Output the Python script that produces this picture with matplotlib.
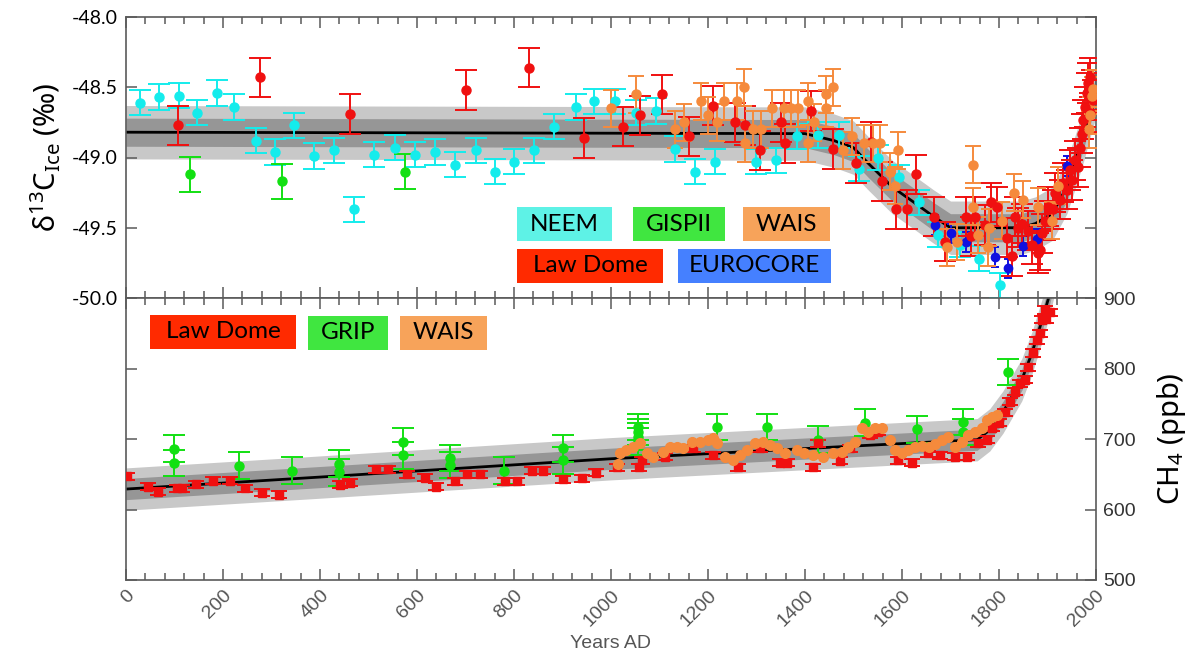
import numpy as np
import matplotlib
matplotlib.use('Agg')
import matplotlib.pyplot as plt
from matplotlib.patches import Rectangle
from matplotlib.ticker import MultipleLocator

# ---- d13C of methane (top panel) ----
model_year = [0, 1400, 1460, 1500, 1530, 1580, 1625, 1665, 1700, 1845, 1875, 1910,
              1940, 1960, 1975, 1990, 2000]
model_d13c = [-48.82, -48.83, -48.88, -48.93, -49.04, -49.21, -49.32, -49.42, -49.50,
              -49.50, -49.47, -49.40, -49.21, -49.00, -48.83, -48.64, -48.52]

neem_year = [29, 68, 109, 146, 188, 223, 268, 307, 346, 387, 429, 470, 511, 555, 596, 637,
             678, 722, 761, 800, 841, 882, 928, 965, 1008, 1052, 1093, 1132, 1173, 1214,
             1299, 1340, 1383, 1427, 1470, 1511, 1551, 1594, 1635, 1675, 1720, 1759, 1802]
neem_d13c = [-48.61, -48.57, -48.56, -48.68, -48.54, -48.64, -48.88, -48.96, -48.77, -48.99,
             -48.95, -49.37, -48.98, -48.93, -48.98, -48.96, -49.05, -48.95, -49.10, -49.03,
             -48.95, -48.78, -48.64, -48.60, -48.60, -48.68, -48.67, -48.94, -49.10, -49.03,
             -49.03, -49.02, -48.85, -48.84, -48.84, -49.08, -49.00, -49.14, -49.32, -49.55,
             -49.62, -49.72, -49.91]

gisp_year = [131, 321, 575]
gisp_d13c = [-49.12, -49.17, -49.10]

law_year = [107, 276, 462, 701, 831, 944, 1025, 1060, 1105, 1160, 1210, 1256, 1277, 1307,
            1350, 1359, 1412, 1458, 1505, 1536, 1559, 1588, 1610, 1629, 1666, 1689, 1732,
            1742, 1751, 1771, 1784, 1796, 1816, 1826, 1833, 1839, 1847, 1860, 1868, 1880,
            1885, 1889, 1895, 1901, 1911, 1915, 1926, 1932, 1940, 1946, 1950, 1957, 1963,
            1967, 1971, 1974, 1977, 1981, 1984, 1987, 1988, 1991, 1994]
law_d13c = [-48.77, -48.43, -48.69, -48.52, -48.36, -48.86, -48.78, -48.70, -48.55, -48.85,
            -48.63, -48.75, -48.77, -48.95, -48.75, -48.90, -48.67, -48.94, -49.04, -48.89,
            -49.17, -49.37, -49.37, -49.12, -49.42, -49.60, -49.42, -49.56, -49.42, -49.48,
            -49.32, -49.35, -49.57, -49.70, -49.42, -49.50, -49.47, -49.52, -49.62, -49.68,
            -49.66, -49.54, -49.45, -49.35, -49.37, -49.25, -49.30, -49.18, -49.23, -49.09,
            -49.16, -49.02, -49.07, -48.93, -48.83, -48.73, -48.64, -48.54, -48.47, -48.43,
            -48.68, -48.52, -48.59]

wais_year = [1000, 1052, 1132, 1151, 1186, 1200, 1219, 1233, 1260, 1274, 1277, 1293, 1309,
             1332, 1357, 1371, 1385, 1406, 1406, 1419, 1443, 1443, 1458, 1478, 1497, 1522,
             1540, 1555, 1575, 1586, 1592, 1692, 1713, 1746, 1746, 1757, 1778, 1780, 1806,
             1831, 1850, 1880, 1909, 1922, 1986, 1988, 1992, 1994]
wais_d13c = [-48.65, -48.55, -48.80, -48.75, -48.60, -48.70, -48.75, -48.60, -48.60, -48.50,
             -48.90, -48.80, -48.80, -48.65, -48.65, -48.65, -48.65, -48.60, -48.90, -48.75,
             -48.65, -48.55, -48.50, -48.95, -48.85, -48.90, -48.90, -48.90, -49.10, -49.20,
             -48.95, -49.64, -49.60, -49.05, -49.35, -49.55, -49.64, -49.50, -49.45, -49.25,
             -49.30, -49.35, -49.45, -49.20, -48.80, -48.70, -48.56, -48.51]

euro_year = [1668, 1701, 1732, 1792, 1819, 1849, 1878, 1940]
euro_d13c = [-49.48, -49.54, -49.60, -49.71, -49.79, -49.63, -49.58, -49.06]

# ---- methane concentration (bottom panel) ----
model_ch4_year = [0, 400, 1000, 1472, 1755, 1781, 1808, 1847, 1868, 1889, 1901, 1920]
model_ch4 = [629, 646, 672, 689, 699, 713, 738, 784, 822, 869, 897, 950]

law_ch4_year = [2, 46, 66, 105, 115, 144, 179, 214, 245, 280, 316, 441, 462, 515, 540, 579,
                617, 639, 678, 703, 730, 781, 806, 837, 860, 901, 940, 969, 1012, 1058, 1064,
                1111, 1169, 1210, 1262, 1307, 1348, 1363, 1417, 1427, 1472, 1493, 1534, 1551,
                1592, 1620, 1654, 1678, 1709, 1734, 1757, 1775, 1786, 1799, 1812, 1823, 1833,
                1843, 1853, 1860, 1870, 1878, 1884, 1888, 1894, 1897, 1905]
law_ch4 = [647, 632, 625, 630, 630, 636, 641, 641, 630, 624, 621, 635, 638, 657, 657, 650,
           645, 632, 640, 650, 650, 640, 640, 655, 655, 643, 644, 652, 660, 660, 670, 675,
           687, 677, 660, 687, 666, 666, 660, 694, 669, 687, 706, 710, 670, 666, 680, 677,
           675, 675, 694, 699, 716, 723, 738, 753, 767, 779, 784, 802, 822, 840, 850, 869,
           883, 870, 880]

grip_year = [99, 99, 233, 342, 440, 440, 571, 571, 668, 668, 779, 901, 901, 1056, 1056,
             1056, 1056, 1219, 1322, 1427, 1524, 1631, 1726, 1726, 1819]
grip_ch4 = [686, 666, 662, 655, 665, 653, 696, 677, 673, 663, 655, 687, 670, 717, 710, 703,
            697, 717, 717, 699, 723, 714, 724, 710, 795]

wais_ch4_year = [1015, 1019, 1030, 1046, 1060, 1074, 1087, 1107, 1122, 1136, 1149, 1167, 1183,
                 1200, 1210, 1219, 1235, 1252, 1266, 1280, 1297, 1313, 1328, 1343, 1359, 1383,
                 1397, 1417, 1437, 1458, 1476, 1489, 1503, 1517, 1530, 1544, 1559, 1575, 1586,
                 1600, 1613, 1627, 1641, 1655, 1668, 1682, 1695, 1709, 1723, 1736, 1750, 1765,
                 1775, 1786, 1796]
wais_ch4 = [664, 680, 684, 689, 694, 680, 675, 682, 689, 689, 687, 696, 696, 699, 701, 694,
            675, 670, 677, 684, 694, 696, 692, 687, 680, 684, 680, 677, 675, 680, 682, 688,
            696, 716, 710, 716, 716, 699, 684, 680, 684, 689, 690, 688, 693, 699, 703, 689,
            696, 706, 710, 716, 727, 731, 734]

c_neem, c_gisp, c_law, c_wais, c_euro = '#14ecec', '#12e012', '#f01010', '#f58a3c', '#1010e0'
box_colors = {'NEEM': '#5ef2e6', 'GISPII': '#40e640', 'WAIS': '#f7a35a',
              'Law Dome': '#ff2a00', 'EUROCORE': '#4580ff', 'GRIP': '#40e640'}
spine_c = '#5a5a5a'

W, H = 1201, 656
fig = plt.figure(figsize=(W / 100, H / 100), dpi=100)
ax1 = fig.add_axes([126 / W, 1 - 298 / H, 970 / W, 281 / H])
ax2 = fig.add_axes([126 / W, 1 - 580 / H, 970 / W, 282 / H])


def band(ax, x, y, lo, hi):
    x = np.asarray(x, float)
    y = np.asarray(y, float)
    ax.fill_between(x, y - lo, y + lo, color='#c8c8c8', lw=0, zorder=1)
    ax.fill_between(x, y - hi, y + hi, color='#969696', lw=0, zorder=1.1)
    ax.plot(x, y, color='black', lw=2, zorder=1.5)


def pts(ax, x, y, err, color, cap=8, ms=6.5, marker='o', z=3):
    ax.errorbar(x, y, yerr=err, fmt=marker, color=color, ms=ms, mec=color,
                elinewidth=1.4, capsize=cap, capthick=1.4, zorder=z)


def label_box(x0, y0, x1, y1, text):
    fig.patches.append(Rectangle((x0 / W, 1 - y1 / H), (x1 - x0) / W, (y1 - y0) / H,
                                 transform=fig.transFigure, color=box_colors[text],
                                 zorder=10, lw=0))
    fig.text((x0 + x1) / 2 / W, 1 - (y0 + y1) / 2 / H, text, ha='center', va='center',
             fontsize=17.5, family=['Lato', 'DejaVu Sans'], color='black', zorder=11)


# top panel
band(ax1, model_year, model_d13c, 0.19, 0.10)
pts(ax1, neem_year, neem_d13c, 0.09, c_neem)
pts(ax1, gisp_year, gisp_d13c, 0.125, c_gisp)
pts(ax1, euro_year, euro_d13c, 0.07, c_euro, cap=3, ms=6)
pts(ax1, law_year, law_d13c, 0.14, c_law)
pts(ax1, wais_year, wais_d13c, 0.13, c_wais, cap=6)
ax1.set_ylim(-50, -48)
ax1.set_yticks(np.arange(-50, -47.9, 0.5))
ax1.yaxis.set_major_formatter(matplotlib.ticker.FormatStrFormatter('%.1f'))
for t in ax1.get_yticklabels():
    t.set_family(['Lato', 'DejaVu Sans'])
ax1.set_ylabel(r'$\mathregular{δ^{13}C_{Ice}}$ (‰)', fontsize=21,
               family=['Noto Sans', 'DejaVu Sans'], labelpad=6)

# bottom panel
band(ax2, model_ch4_year, model_ch4, 30, 15)
pts(ax2, grip_year, grip_ch4, 19, c_gisp)
pts(ax2, law_ch4_year, law_ch4, 5, c_law, cap=6, ms=5.5, marker='s')
ax2.plot(wais_ch4_year, wais_ch4, 'o', color=c_wais, ms=7, zorder=4)
ax2.set_ylim(500, 900)
ax2.set_yticks([500, 600, 700, 800, 900])
ax2.yaxis.set_label_position('right')
ax2.set_ylabel(r'$\mathregular{CH_4}$ (ppb)', fontsize=21,
               family=['Noto Sans', 'DejaVu Sans'], labelpad=14)
ax2.set_xlabel('Years AD', fontsize=14, color='#555555', family='Liberation Sans',
               va='center')
ax2.xaxis.set_label_coords(0.5, -0.225)

for ax in (ax1, ax2):
    ax.set_xlim(0, 2000)
    ax.xaxis.set_major_locator(MultipleLocator(200))
    ax.xaxis.set_minor_locator(MultipleLocator(40))
    for s in ax.spines.values():
        s.set_color(spine_c)
        s.set_linewidth(1.2)
    ax.tick_params(which='both', direction='in', top=True, bottom=True, left=True,
                   right=True, color=spine_c, width=1.1)
    ax.tick_params(which='major', length=8)
    ax.tick_params(which='minor', length=5)

ax1.tick_params(labelbottom=False, labelsize=14, labelcolor='black', pad=6)
ax2.tick_params(axis='y', labelleft=False, labelright=True, labelsize=14,
                labelcolor='#333333', pad=5)
ax2.tick_params(axis='x', labelsize=14, labelcolor='#555555', pad=5)
for t in ax2.get_xticklabels():
    t.set_rotation(45)
    t.set_ha('right')
    t.set_va('top')
    t.set_rotation_mode('anchor')
    t.set_family('Liberation Sans')
for t in ax2.get_yticklabels():
    t.set_family('Liberation Sans')

# legend boxes
label_box(517, 207, 612, 241, 'NEEM')
label_box(633, 207, 725, 241, 'GISPII')
label_box(743, 207, 830, 241, 'WAIS')
label_box(517, 249, 663, 283, 'Law Dome')
label_box(678, 249, 831, 283, 'EUROCORE')
label_box(150, 315, 296, 349, 'Law Dome')
label_box(308, 316, 388, 350, 'GRIP')
label_box(400, 316, 487, 350, 'WAIS')

fig.savefig('out.png', dpi=100)
